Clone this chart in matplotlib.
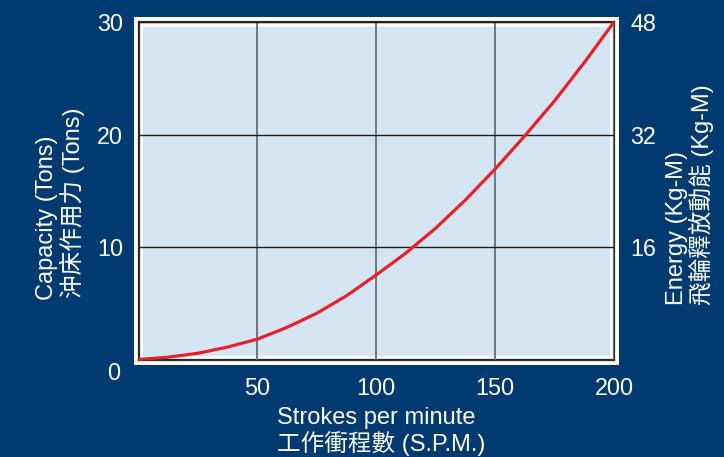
import matplotlib
matplotlib.use("Agg")
import matplotlib.pyplot as plt
from matplotlib.patches import Rectangle
import matplotlib.transforms as mtransforms

plt.rcParams['font.family'] = ['Liberation Sans', 'Noto Sans CJK TC', 'DejaVu Sans']

spm = [0, 12.5, 25, 37.5, 50, 62.5, 75, 87.5, 100, 112.5, 125, 137.5, 150, 162.5, 175, 187.5, 200]
capacity = [0.05, 0.25, 0.6, 1.15, 1.85, 2.9, 4.15, 5.7, 7.55, 9.5, 11.7, 14.2, 16.95, 19.9, 23.0, 26.4, 30.0]
x_ticks = [50, 100, 150, 200]
left_ticks = [0, 10, 20, 30]
right_ticks = [16, 32, 48]

BG = '#003a70'
PLOT = '#d5e5f4'
RED = '#e8202a'

W, H = 724, 457
fig = plt.figure(figsize=(W / 100, H / 100), dpi=100, facecolor=BG)

L, R, T, B = 138.5, 614, 22, 360
ax = fig.add_axes([L / W, 1 - B / H, (R - L) / W, (B - T) / H])
ax.set_facecolor('white')

# outer white band
ax.add_patch(Rectangle(((L - 5) / W, 1 - (B + 5) / H), (R - L + 10) / W, (B - T + 10) / H,
                       transform=fig.transFigure, facecolor='white', edgecolor='none',
                       zorder=0.2, clip_on=False))
# inner light-blue area
inset = 4.5
ax.add_patch(Rectangle(((L + inset) / W, 1 - (B - inset) / H), (R - L - 2 * inset) / W, (B - T - 2 * inset) / H,
                       transform=fig.transFigure, facecolor=PLOT, edgecolor='none',
                       zorder=0.5, clip_on=False))

ax.set_xlim(0, 200)
ax.set_ylim(0, 30)
ax.set_xticks(x_ticks)
ax.set_yticks(left_ticks)
ax.xaxis.grid(True, color='#6f767d', linewidth=1.4, zorder=1)
ax.yaxis.grid(True, color='#1c1c1c', linewidth=1.0, zorder=1)
ax.set_axisbelow(False)
for s in ax.spines.values():
    s.set_color('#2a2a2a')
    s.set_linewidth(1.6)
    s.set_zorder(2)
fs_tick = 16.8
ax.tick_params(axis='both', length=0, labelsize=fs_tick, colors='white')
ax.tick_params(axis='x', pad=12)
ax.tick_params(axis='y', pad=11)

ax.plot(spm, capacity, color=RED, linewidth=2.3, zorder=5, clip_on=False,
        solid_capstyle='butt', solid_joinstyle='round')

ax2 = ax.twinx()
ax2.set_ylim(0, 48)
ax2.set_yticks(right_ticks)
ax2.tick_params(axis='y', length=0, labelsize=fs_tick, colors='white', pad=12)
for s in ax2.spines.values():
    s.set_visible(False)

for lab in ax.get_yticklabels():
    if lab.get_text() == '0':
        lab.set_transform(lab.get_transform() + mtransforms.ScaledTranslation(-2 / 72, -8 / 72, fig.dpi_scale_trans))

fs = 17
fig.text(47 / W, 1 - 300 / H, 'Capacity (Tons)', rotation=90, ha='center', va='bottom', color='white', fontsize=fs)
fig.text(72 / W, 1 - 298 / H, '沖床作用力 (Tons)', rotation=90, ha='center', va='bottom', color='white', fontsize=fs)
fig.text(677 / W, 1 - 305 / H, 'Energy (Kg-M)', rotation=90, ha='center', va='bottom', color='white', fontsize=fs)
fig.text(701 / W, 1 - 305 / H, '飛輪釋放動能 (Kg-M)', rotation=90, ha='center', va='bottom', color='white', fontsize=fs)
fig.text(277 / W, 1 - 418 / H, 'Strokes per minute', ha='left', va='center', color='white', fontsize=fs)
fig.text(277 / W, 1 - 443 / H, '工作衝程數 (S.P.M.)', ha='left', va='center', color='white', fontsize=fs)

fig.savefig('out.png', dpi=100, facecolor=BG)
